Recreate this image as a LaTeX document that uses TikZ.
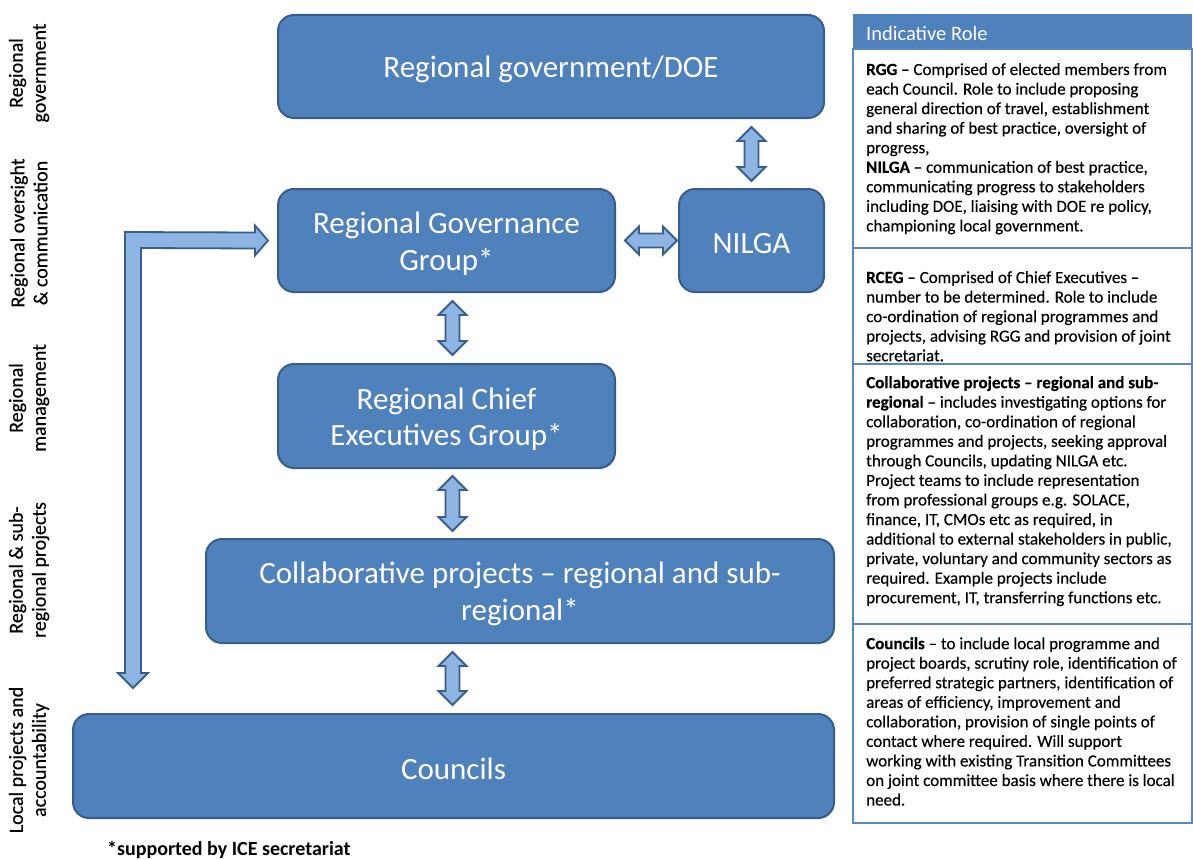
\documentclass[tikz,border=0pt]{standalone}
\usepackage{fontspec}
\setmainfont{Carlito}
\newfontfamily\heavyfont[FakeBold=0.35, Ligatures=TeX]{Carlito}
\usetikzlibrary{calc}

\definecolor{boxfill}{HTML}{4F81BD}
\definecolor{boxline}{HTML}{385D8A}
\definecolor{arrowfill}{HTML}{8DB4E2}
\definecolor{panelline}{HTML}{5B87C0}

\tikzset{
  box/.style={draw=boxline, fill=boxfill, line width=2pt, rounded corners=16pt,
    inner sep=0pt, anchor=north west},
  boxtext/.style={text=white, font=\fontsize{31}{36.5}\selectfont, align=center,
    inner sep=0pt, yshift=-3pt},
  barrow/.style={draw=boxline, fill=arrowfill, line width=1.8pt, line join=miter},
  sidelabel/.style={rotate=90, align=center, font=\heavyfont\fontsize{20}{23}\selectfont, inner sep=0pt},
  cell/.style={draw=panelline, line width=1.5pt},
  celltext/.style={anchor=north west, align=left, inner sep=0pt,
    font=\heavyfont\fontsize{17}{19.55}\selectfont},
}

% vertical two-headed block arrow between a top tip and a bottom tip
\newcommand\vbiarrow[2]{%
  \draw[barrow] (#1) -- ++(14,14) -- ++(-7,0) -- ([shift={(7,-14)}]#2) -- ++(7,0)
    -- (#2) -- ++(-14,-14) -- ++(7,0) -- ([shift={(-7,14)}]#1) -- ++(-7,0) -- cycle;}
% horizontal two-headed block arrow between a left tip and a right tip
\newcommand\hbiarrow[2]{%
  \draw[barrow] (#1) -- ++(14,-14) -- ++(0,7) -- ([shift={(-14,-7)}]#2) -- ++(0,-7)
    -- (#2) -- ++(-14,14) -- ++(0,-7) -- ([shift={(14,7)}]#1) -- ++(0,7) -- cycle;}

\begin{document}
\begin{tikzpicture}[x=1pt,y=-1pt]
\useasboundingbox (0,0) rectangle (1193,859);

% tiers
\node[box, minimum width=546, minimum height=103,
  label={[boxtext]center:Regional government/DOE}] (doe) at (277,14) {};
\node[box, minimum width=337, minimum height=103,
  label={[boxtext]center:{Regional Governance\\Group*}}] (rgg) at (277,188) {};
\node[box, minimum width=145, minimum height=103,
  label={[boxtext]center:NILGA}] (nilga) at (678,188) {};
\node[box, minimum width=337, minimum height=104,
  label={[boxtext]center:{Regional Chief\\Executives Group*}}] (rceg) at (277,363) {};
\node[box, minimum width=628, minimum height=104,
  label={[boxtext]center:{Collaborative projects -- regional and sub-\\regional*}}] (collab) at (205,538) {};
\node[box, minimum width=761, minimum height=104,
  label={[boxtext]center:Councils}] (councils) at (72,713) {};

% links between tiers
\coordinate (dn1) at ([yshift=-8]doe.south -| nilga.north);
\coordinate (dn2) at ([yshift=7]nilga.north);
\vbiarrow{dn1}{dn2}

\coordinate (gn1) at ([xshift=9]rgg.east);
\coordinate (gn2) at ([xshift=-1]nilga.west);
\hbiarrow{gn1}{gn2}

\coordinate (gc1) at ([xshift=6,yshift=-8]rgg.south);
\coordinate (gc2) at ([xshift=6,yshift=8]rceg.north);
\vbiarrow{gc1}{gc2}

\coordinate (cp1) at ([xshift=6,yshift=-7]rceg.south);
\coordinate (cp2) at ([yshift=7]collab.north -| cp1);
\vbiarrow{cp1}{cp2}

\coordinate (pc1) at ([yshift=-8]collab.south -| cp1);
\coordinate (pc2) at ([yshift=8]councils.north -| cp1);
\vbiarrow{pc1}{pc2}

% Councils <-> Regional Governance Group return path
\coordinate (ltipR) at ([xshift=-9]rgg.west);
\coordinate (ltipB) at ($(councils.north west)+(61,-25)$);
\draw[barrow] (ltipR) -- ++(-13,-15) -- ++(0,7) -- (125,232) -- (125,673) -- (118,673)
  -- (ltipB) -- (148,673) -- (141,673) -- (141,248) -- ([shift={(-13,8)}]ltipR)
  -- ++(0,7) -- cycle;

% tier labels
\node[sidelabel] (l1) at (29,73) {Regional\\government};
\node[sidelabel] (l2) at (29,233) {Regional oversight\\\& communication};
\node[sidelabel] (l3) at (29,398) {Regional\\management};
\node[sidelabel] (l4) at (29,570) {Regional \& sub-\\regional projects};
\node[sidelabel] (l5) at (29,760) {Local projects and\\accountability};

\node[anchor=base west, inner sep=0pt, font=\bfseries\fontsize{20}{23}\selectfont] (note)
  at (107,855) {*supported by ICE secretariat};

% role table
\fill[boxfill] (853,14) rectangle (1192,49);
\node[anchor=west, inner sep=0pt, text=white, font=\fontsize{20.5}{23}\selectfont] (hdr)
  at (866,33) {Indicative Role};
\draw[cell] (853,49) rectangle (1192,248);
\draw[cell] (853,248) rectangle (1192,364);
\draw[cell] (853,364) rectangle (1192,624);
\draw[cell] (853,624) rectangle (1192,823);

\node[celltext] (t1) at (866,63) {%
\textbf{RGG} -- Comprised of elected members from\\
each Council. Role to include proposing\\
general direction of travel, establishment\\
and sharing of best practice, oversight of\\
progress,\\
\textbf{NILGA} -- communication of best practice,\\
communicating progress to stakeholders\\
including DOE, liaising with DOE re policy,\\
championing local government.};

\node[celltext] (t2) at (866,271) {%
\textbf{RCEG} -- Comprised of Chief Executives --\\
number to be determined. Role to include\\
co-ordination of regional programmes and\\
projects, advising RGG and provision of joint\\
secretariat.};

\node[celltext] (t3) at (866,376) {%
\textbf{Collaborative projects -- regional and sub-}\\
\textbf{regional} -- includes investigating options for\\
collaboration, co-ordination of regional\\
programmes and projects, seeking approval\\
through Councils, updating NILGA etc.\\
Project teams to include representation\\
from professional groups e.g. SOLACE,\\
finance, IT, CMOs etc as required, in\\
additional to external stakeholders in public,\\
private, voluntary and community sectors as\\
required. Example projects include\\
procurement, IT, transferring functions etc.};

\node[celltext] (t4) at (866,637) {%
\textbf{Councils} -- to include local programme and\\
project boards, scrutiny role, identification of\\
preferred strategic partners, identification of\\
areas of efficiency, improvement and\\
collaboration, provision of single points of\\
contact where required. Will support\\
working with existing Transition Committees\\
on joint committee basis where there is local\\
need.};
\end{tikzpicture}
\end{document}
